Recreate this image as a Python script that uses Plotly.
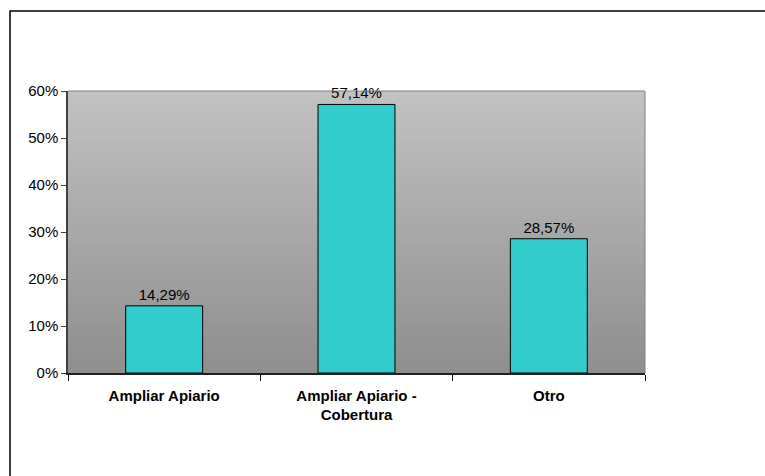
import plotly.graph_objects as go

# Chart data
categories = ["Ampliar Apiario", "Ampliar Apiario -<br>Cobertura", "Otro"]
shares = [0.1429, 0.5714, 0.2857]
y_ticks = [0, 0.1, 0.2, 0.3, 0.4, 0.5, 0.6]

W, H = 765, 476
ML, MR, MT, MB = 68, 120, 91, 103
PW, PH = W - ML - MR, H - MT - MB
FONT = "Liberation Sans, Arial"

fig = go.Figure()
fig.add_trace(go.Bar(
    x=categories,
    y=shares,
    width=0.4,
    marker=dict(color="#33CCCC", line=dict(color="#000000", width=1)),
    texttemplate="%{y:.2%}",
    textposition="outside",
    cliponaxis=False,
    textfont=dict(family=FONT, size=15, color="#000000"),
    hoverinfo="skip",
))

# vertical gray gradient behind the plot area: nested rectangles anchored
# at the bottom, each slightly shorter and darker than the previous one
shapes = []
n = 90
top_v, bot_v = 194, 142
for i in range(n):
    t = (i + 0.5) / n
    v = round(top_v + (bot_v - top_v) * t)
    shapes.append(dict(
        type="rect", xref="paper", yref="paper",
        x0=0, x1=1, y0=0, y1=1 - i / n,
        fillcolor=f"rgb({v},{v},{v})", line=dict(width=0), layer="below",
    ))

# plot-area frame (top and right)
shapes.append(dict(type="line", xref="paper", yref="paper", x0=0, x1=1, y0=1, y1=1,
                   line=dict(color="#808080", width=1)))
shapes.append(dict(type="line", xref="paper", yref="paper", x0=1, x1=1, y0=0, y1=1,
                   line=dict(color="#808080", width=1)))


def px_x(p):
    return (p - ML) / PW


def px_y(p):
    return (H - MB - p) / PH


# outer chart border: a path along the top and left edges only
x_l, x_r = px_x(10), px_x(W + 10)
y_t, y_b = px_y(11), px_y(H + 10)
shapes.append(dict(type="path", xref="paper", yref="paper",
                   path=f"M {x_r} {y_t} L {x_l} {y_t} L {x_l} {y_b}",
                   line=dict(color="#000000", width=1.5)))

fig.update_layout(
    width=W, height=H,
    margin=dict(l=ML, r=MR, t=MT, b=MB, pad=0),
    paper_bgcolor="#FFFFFF",
    plot_bgcolor="rgba(0,0,0,0)",
    separators=",.",
    showlegend=False,
    shapes=shapes,
    font=dict(family=FONT, size=15, color="#000000"),
    xaxis=dict(
        type="category",
        showline=True, linecolor="#202020", linewidth=1.5,
        ticks="outside", tickson="boundaries", ticklen=6, tickcolor="#000000",
        ticklabelstandoff=8,
        showgrid=False,
        tickfont=dict(family=FONT, size=15, color="#000000", weight="bold"),
        fixedrange=True,
    ),
    yaxis=dict(
        range=[0, 0.6],
        tickvals=y_ticks,
        tickformat=".0%",
        showline=True, linecolor="#404040", linewidth=1.5,
        ticks="outside", ticklen=5, tickcolor="#404040",
        showgrid=False, zeroline=False,
        tickfont=dict(family=FONT, size=15, color="#000000"),
        fixedrange=True,
    ),
)

fig.write_html("out.html")
